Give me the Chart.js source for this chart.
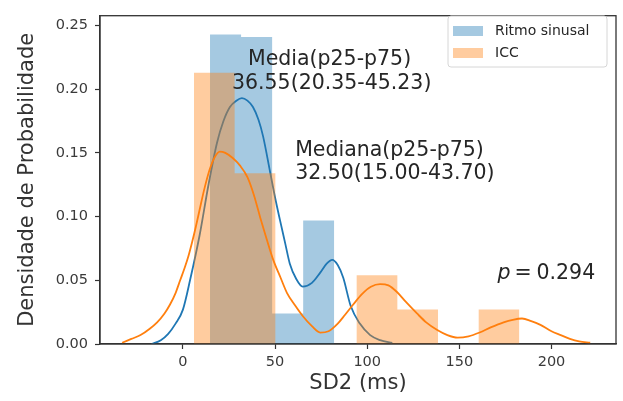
<!DOCTYPE html>
<html><head><meta charset="utf-8">
<script src="https://cdn.jsdelivr.net/npm/chart.js@4.4.0/dist/chart.umd.min.js"></script>
<style>html,body{margin:0;padding:0;background:#fff}#wrap{width:623px;height:401px;position:relative}</style>
</head><body><div id="wrap"><canvas id="c" width="623" height="401"></canvas></div>
<script>
const seriesNames = ['Ritmo sinusal', 'ICC'];
const blueBinEdges = [14.7, 31.55, 48.4, 65.25, 82.1];
const blueBinHeights = [0.243, 0.241, 0.024, 0.097];
const orangeBinEdges = [6.0, 28.07, 50.14, 72.21, 94.28, 116.35, 138.42, 160.49, 182.56];
const orangeBinHeights = [0.213, 0.134, 0, 0, 0.054, 0.027, 0, 0.027];
const blueKdeX = [-17, -12, -8, -4, 0, 4, 9, 14, 18.5, 22, 25.5, 29, 32, 35, 38, 41, 43.5, 47.3, 50, 52.7, 55.5, 58, 61.5, 65, 70, 74.5, 78, 81, 84, 87, 91, 96, 101.6, 107, 113.6];
const blueKdeY = [0.0, 0.003, 0.008, 0.016, 0.027, 0.051, 0.085, 0.126, 0.158, 0.175, 0.186, 0.191, 0.193, 0.191, 0.186, 0.176, 0.163, 0.135, 0.115, 0.097, 0.079, 0.063, 0.051, 0.045, 0.048, 0.056, 0.063, 0.066, 0.062, 0.052, 0.030, 0.016, 0.007, 0.003, 0.0008];
const orangeKdeX = [-33, -28, -23, -18, -14, -10, -7, -4, -1.5, 1, 3, 5, 7, 9, 11.5, 14.5, 17, 20, 23, 27, 31, 35, 38.5, 42, 45.5, 49, 53, 56.5, 61, 65, 70, 74.5, 79, 84, 88, 92.4, 97, 102, 107, 111.5, 116, 121, 127, 132, 138, 143.5, 149, 155, 161, 167, 174, 179, 184, 189, 194, 200, 205, 210, 215, 221];
const orangeKdeY = [0.001, 0.004, 0.007, 0.012, 0.017, 0.024, 0.031, 0.040, 0.050, 0.060, 0.069, 0.080, 0.092, 0.105, 0.121, 0.137, 0.146, 0.151, 0.150, 0.146, 0.140, 0.131, 0.117, 0.099, 0.082, 0.066, 0.052, 0.040, 0.030, 0.022, 0.014, 0.009, 0.010, 0.016, 0.023, 0.031, 0.039, 0.045, 0.047, 0.046, 0.041, 0.033, 0.024, 0.017, 0.011, 0.007, 0.005, 0.006, 0.009, 0.013, 0.017, 0.019, 0.020, 0.018, 0.015, 0.010, 0.007, 0.004, 0.002, 0.001];
const xTicks = [0, 50, 100, 150, 200];
const yTicks = [0, 0.05, 0.10, 0.15, 0.20, 0.25];
const annotationLines = ['Media(p25-p75)', '36.55(20.35-45.23)', 'Mediana(p25-p75)', '32.50(15.00-43.70)'];
const pValueText = '0.294';

const FONT = '"DejaVu Sans", "Noto Sans", sans-serif';
const BLUE = '#1f77b4', ORANGE = '#ff7f0e';
const BLUE_A = 'rgba(31,119,180,0.4)', ORANGE_A = 'rgba(255,127,14,0.4)';

function histPoints(edges, heights) {
  const pts = heights.map((h, i) => ({ x: edges[i], y: h }));
  pts.push({ x: edges[edges.length - 1], y: 0 });
  return pts;
}
function curvePoints(xs, ys) { return xs.map((x, i) => ({ x, y: ys[i] })); }

const overlay = {
  id: 'overlay',
  afterDatasetsDraw(chart) {
    const { ctx, chartArea: a, scales: { x, y } } = chart;
    ctx.save();
    ctx.strokeStyle = '#333'; ctx.lineWidth = 1.3;
    ctx.strokeRect(a.left, a.top, a.right - a.left, a.bottom - a.top);
    ctx.fillStyle = '#262626';
    ctx.font = '20.5px ' + FONT;
    ctx.textBaseline = 'alphabetic'; ctx.textAlign = 'left';
    ctx.fillText(annotationLines[0], x.getPixelForValue(35.3), y.getPixelForValue(0.2193));
    ctx.fillText(annotationLines[1], x.getPixelForValue(26.6), y.getPixelForValue(0.2002));
    ctx.fillText(annotationLines[2], x.getPixelForValue(60.9), y.getPixelForValue(0.1472));
    ctx.fillText(annotationLines[3], x.getPixelForValue(60.9), y.getPixelForValue(0.1296));
    const px = x.getPixelForValue(170.7), py = y.getPixelForValue(0.0514);
    ctx.font = 'italic 20.5px ' + FONT;
    ctx.fillText('p', px, py);
    ctx.font = '20.5px ' + FONT;
    ctx.fillText('=', px + 17, py);
    ctx.fillText(pValueText, px + 39, py);
    const lx = 448, ly = 16, lw = 159, lh = 51;
    ctx.beginPath();
    ctx.roundRect(lx, ly, lw, lh, 3);
    ctx.fillStyle = 'rgba(255,255,255,0.85)'; ctx.fill();
    ctx.strokeStyle = '#d6d6d6'; ctx.lineWidth = 1; ctx.stroke();
    ctx.fillStyle = BLUE_A; ctx.fillRect(lx + 5, ly + 10, 30, 10);
    ctx.fillStyle = ORANGE_A; ctx.fillRect(lx + 5, ly + 32, 30, 10);
    ctx.fillStyle = '#262626'; ctx.font = '14px ' + FONT; ctx.textBaseline = 'middle';
    ctx.fillText(seriesNames[0], lx + 47, ly + 15);
    ctx.fillText(seriesNames[1], lx + 47, ly + 37);
    ctx.restore();
  }
};

new Chart(document.getElementById('c'), {
  type: 'line',
  data: {
    datasets: [
      { label: seriesNames[1] + ' kde', data: curvePoints(orangeKdeX, orangeKdeY), borderColor: ORANGE, borderWidth: 1.8, cubicInterpolationMode: 'monotone', pointRadius: 0, fill: false, order: 0 },
      { label: seriesNames[1], data: histPoints(orangeBinEdges, orangeBinHeights), stepped: 'before', borderColor: 'transparent', borderWidth: 0, backgroundColor: ORANGE_A, fill: 'origin', pointRadius: 0, order: 1 },
      { label: seriesNames[0] + ' kde', data: curvePoints(blueKdeX, blueKdeY), borderColor: BLUE, borderWidth: 1.8, cubicInterpolationMode: 'monotone', pointRadius: 0, fill: false, order: 2 },
      { label: seriesNames[0], data: histPoints(blueBinEdges, blueBinHeights), stepped: 'before', borderColor: 'transparent', borderWidth: 0, backgroundColor: BLUE_A, fill: 'origin', pointRadius: 0, order: 3 }
    ]
  },
  options: {
    responsive: false, animation: false, events: [],
    layout: { padding: { left: 0, top: 8, right: 7, bottom: 0 } },
    plugins: { legend: { display: false }, tooltip: { enabled: false } },
    scales: {
      x: {
        type: 'linear', min: -45, max: 235,
        afterBuildTicks: s => { s.ticks = xTicks.map(v => ({ value: v })); },
        afterFit: s => { s.height = 57; },
        ticks: { color: '#3a3a3a', font: { family: FONT, size: 14.5 }, padding: 5, maxRotation: 0, autoSkip: false, callback: v => String(v) },
        grid: { drawOnChartArea: false, drawTicks: true, tickLength: 5, color: '#333', tickWidth: 1.2 },
        border: { display: true, color: '#333', width: 1.3 },
        title: { display: true, text: 'SD2 (ms)', color: '#333', font: { family: FONT, size: 21 }, padding: { top: 0, bottom: 5 } }
      },
      y: {
        type: 'linear', min: 0, max: 0.2577,
        afterBuildTicks: s => { s.ticks = yTicks.map(v => ({ value: v })); },
        afterFit: s => { s.width = 100; },
        ticks: { color: '#3a3a3a', font: { family: FONT, size: 14.5 }, padding: 7, autoSkip: false, callback: v => v.toFixed(2) },
        grid: { drawOnChartArea: false, drawTicks: true, tickLength: 5, color: '#333', tickWidth: 1.2 },
        border: { display: true, color: '#333', width: 1.3 },
        title: { display: true, text: 'Densidade de Probabilidade', color: '#333', font: { family: FONT, size: 21 }, padding: { top: 15, bottom: 0 } }
      }
    }
  },
  plugins: [overlay]
});
</script>
</body></html>
